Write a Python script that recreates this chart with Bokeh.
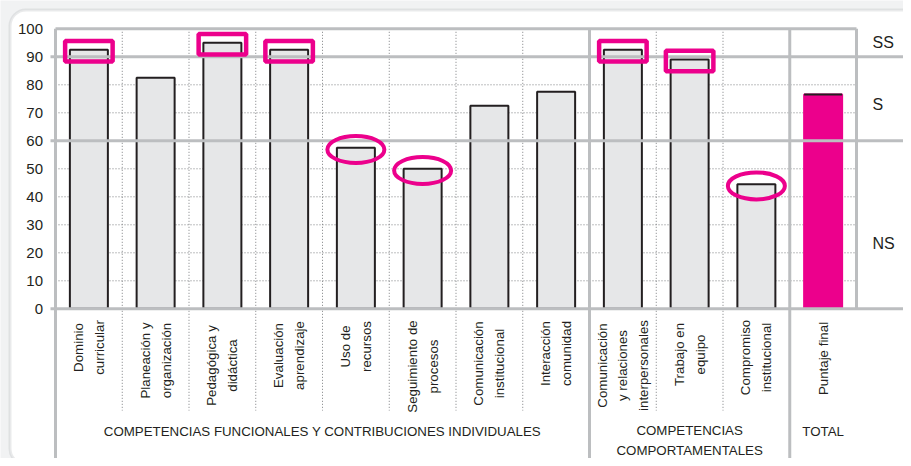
import math
from bokeh.plotting import figure
from bokeh.models import Range1d, BoxAnnotation
from bokeh.core.properties import value
from bokeh.embed import file_html
from bokeh.resources import INLINE

# ---------------- data ----------------
categories = [
    "Dominio\ncurricular",
    "Planeación y\norganización",
    "Pedagógica y\ndidáctica",
    "Evaluación\naprendizaje",
    "Uso de\nrecursos",
    "Seguimiento de\nprocesos",
    "Comunicación\ninstitucional",
    "Interacción\ncomunidad",
    "Comunicación\ny relaciones\ninterpersonales",
    "Trabajo en\nequipo",
    "Compromiso\ninstitucional",
    "Puntaje final",
]
scores = [92.5, 82.5, 95, 92.5, 57.5, 50, 72.5, 77.5, 92.5, 89, 44.5, 76.5]
total_index = 11

group_names = [
    "COMPETENCIAS FUNCIONALES Y CONTRIBUCIONES INDIVIDUALES",
    "COMPETENCIAS\nCOMPORTAMENTALES",
    "TOTAL",
]
group_start = [0, 8, 11]
group_end = [8, 11, 12]

y_ticks = [0, 10, 20, 30, 40, 50, 60, 70, 80, 90, 100]
level_cuts = [90, 60]
level_names = ["SS", "S", "NS"]
level_label_at = [95, 73, 23.5]

boxed = [0, 2, 3, 8, 9]
circled = [4, 5, 10]

# ---------------- layout (pixels) ----------------
W, H = 903, 458
FRAME_LEFT = 55.0
CAT_PX = 66.75
ZERO_PX = 308.3
UNIT_PX = 2.8
label_mid_px = [347, 360, 365, 355, 346, 366, 363, 353, 365, 354, 357, 358]
LABEL_FS = 13.3
LABEL_LINE_PX = 18.5
GROUP_FS = 13.3
GROUP_LINE_PX = 18
GROUP_FIRST_PX = 431

def xpx(px):
    return (px - FRAME_LEFT) / CAT_PX

def ypx(py):
    return (ZERO_PX - py) / UNIT_PX

DARK = "#231f20"
GRAY = "#bcbec0"
DOT = "#7d7f82"
BAR = "#e6e7e8"
MAG = "#ec008c"
BG = "#f1f2f3"
PANEL = "#b7b9bc"
FONT = "Liberation Sans"

p = figure(
    width=W, height=H,
    x_range=Range1d(xpx(0), xpx(W)), y_range=Range1d(ypx(H), ypx(0)),
    output_backend="svg", toolbar_location=None,
    x_axis_location=None, y_axis_location=None,
    min_border=0, background_fill_color=BG, border_fill_color=BG,
    outline_line_color=None,
)
p.grid.visible = False

# panel
panel = BoxAnnotation(
    left=xpx(9.5), right=xpx(W + 40), top=ypx(9.5), bottom=ypx(464),
    fill_color="white", fill_alpha=1.0, line_color=PANEL, line_width=3,
    border_radius=16, level="underlay",
)
p.add_layout(panel)

n = len(categories)
centers = [i + 0.5 for i in range(n)]

# dotted horizontal grid
minor = [t for t in y_ticks if t not in level_cuts and t not in (0, 100)]
p.segment(x0=[0] * len(minor), x1=[n] * len(minor), y0=minor, y1=minor,
          line_color=DOT, line_width=1, line_dash="1 2")

# dotted vertical separators
seps = [b for b in range(1, n) if b not in group_start]
p.segment(x0=seps, x1=seps, y0=[100] * len(seps), y1=[ypx(410)] * len(seps),
          line_color=DOT, line_width=1, line_dash="1 2")

# bars
fills = [MAG if i == total_index else BAR for i in range(n)]
lines = [MAG if i == total_index else DARK for i in range(n)]
BW = 38 / CAT_PX
p.vbar(x=centers, top=scores, bottom=0, width=BW, fill_color=fills,
       line_color=lines, line_width=2)
p.segment(x0=[centers[total_index] - BW / 2], x1=[centers[total_index] + BW / 2],
          y0=[scores[total_index]], y1=[scores[total_index]],
          line_color=DARK, line_width=2)

# thick gray lines
hl = level_cuts + [0]
p.segment(x0=[xpx(50)] * len(hl), x1=[xpx(W + 5)] * len(hl), y0=hl, y1=hl,
          line_color=GRAY, line_width=3)
p.segment(x0=[0], x1=[n], y0=[100], y1=[100], line_color=GRAY, line_width=3)
gb = [0] + [g for g in group_start if g > 0]
p.segment(x0=gb, x1=gb, y0=[100] * len(gb), y1=[ypx(H + 5)] * len(gb),
          line_color=GRAY, line_width=3)
p.segment(x0=[n], x1=[n], y0=[100], y1=[0], line_color=GRAY, line_width=3)

# highlight marks
p.rect(x=[centers[i] for i in boxed], y=[scores[i] - 0.5 for i in boxed],
       width=47.5 / CAT_PX, height=20.5 / UNIT_PX,
       fill_color=None, line_color=MAG, line_width=4.5)
p.ellipse(x=[centers[i] for i in circled], y=[scores[i] - 0.6 for i in circled],
          width=57 / CAT_PX, height=27 / UNIT_PX,
          fill_color=None, line_color=MAG, line_width=4)

# y tick labels
p.text(x=[xpx(42.5)] * len(y_ticks), y=y_ticks, text=[str(t) for t in y_ticks],
       text_align="right", text_baseline="middle", text_font=value(FONT),
       text_font_size="15px", text_color=DARK)

# level labels
p.text(x=[xpx(872)] * len(level_names), y=level_label_at, text=level_names,
       text_align="left", text_baseline="middle", text_font=value(FONT),
       text_font_size="16px", text_color=DARK)

# category labels (rotated)
p.text(x=centers, y=[ypx(v) for v in label_mid_px], text=categories,
       angle=math.pi / 2, text_align="center", text_baseline="middle",
       text_font=value(FONT), text_font_size=f"{LABEL_FS}px", text_color=DARK,
       text_line_height=LABEL_LINE_PX / LABEL_FS)

# group labels
gx = [(s + e) / 2 for s, e in zip(group_start, group_end)]
gy = [ypx(GROUP_FIRST_PX + (g.count("\n")) * GROUP_LINE_PX / 2) for g in group_names]
p.text(x=gx, y=gy, text=group_names, text_align="center",
       text_baseline="middle", text_font=value(FONT), text_font_size=f"{GROUP_FS}px",
       text_color=DARK, text_line_height=GROUP_LINE_PX / GROUP_FS)

open("out.html", "w").write(file_html(p, INLINE))
